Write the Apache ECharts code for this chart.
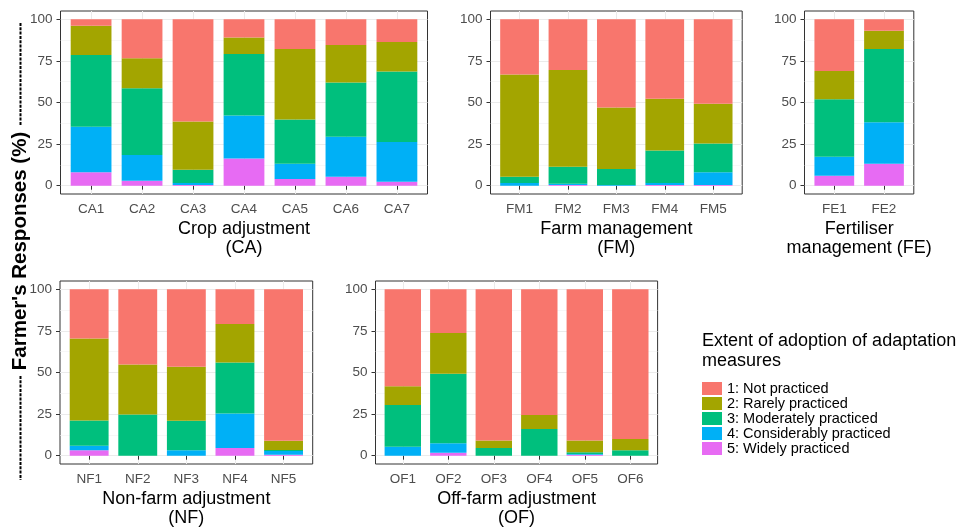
<!DOCTYPE html>
<html>
<head>
<meta charset="utf-8">
<script src="https://cdn.jsdelivr.net/npm/echarts@6/dist/echarts.min.js"></script>
<style>
  html, body { margin: 0; padding: 0; background: #fff; }
  #chart { width: 964px; height: 527px; }
</style>
</head>
<body>
<div id="chart"></div>
<script>
// Adoption levels, top of the stack first
const levelNames = ['1: Not practiced', '2: Rarely practiced', '3: Moderately practiced',
                    '4: Considerably practiced', '5: Widely practiced'];
const levelColors = ['#F8766D', '#A3A500', '#00BF7D', '#00B0F6', '#E76BF3'];
const yTicks = [0, 25, 50, 75, 100];
const yMinorTicks = [12.5, 37.5, 62.5, 87.5];

// Crop adjustment (CA)
const caLabels = ['CA1', 'CA2', 'CA3', 'CA4', 'CA5', 'CA6', 'CA7'];
const caNot          = [3.8, 23.4, 61.4, 11.0, 17.8, 15.4, 13.6];
const caRarely       = [17.6, 18.0, 29.0, 9.8, 42.4, 22.6, 17.8];
const caModerately   = [43.2, 40.2, 8.0, 37.0, 26.6, 32.6, 42.4];
const caConsiderably = [27.4, 15.4, 1.2, 25.8, 9.2, 24.0, 23.8];
const caWidely       = [8.0, 3.0, 0.4, 16.4, 4.0, 5.4, 2.4];

// Farm management (FM)
const fmLabels = ['FM1', 'FM2', 'FM3', 'FM4', 'FM5'];
const fmNot          = [33.2, 30.4, 53.0, 47.8, 50.8];
const fmRarely       = [61.4, 58.2, 37.0, 31.0, 23.8];
const fmModerately   = [3.8, 10.2, 9.6, 19.6, 17.4];
const fmConsiderably = [1.6, 0.8, 0.4, 1.2, 7.6];
const fmWidely       = [0.0, 0.4, 0.0, 0.4, 0.4];

// Fertiliser management (FE)
const feLabels = ['FE1', 'FE2'];
const feNot          = [31.0, 6.8];
const feRarely       = [17.0, 11.0];
const feModerately   = [34.6, 44.0];
const feConsiderably = [11.4, 25.0];
const feWidely       = [6.0, 13.2];

// Non-farm adjustment (NF)
const nfLabels = ['NF1', 'NF2', 'NF3', 'NF4', 'NF5'];
const nfNot          = [29.6, 45.2, 46.6, 20.8, 91.0];
const nfRarely       = [49.2, 30.0, 32.4, 23.2, 5.6];
const nfModerately   = [15.2, 24.8, 17.8, 30.6, 0.6];
const nfConsiderably = [2.8, 0.0, 3.2, 20.8, 2.2];
const nfWidely       = [3.2, 0.0, 0.0, 4.6, 0.6];

// Off-farm adjustment (OF)
const ofLabels = ['OF1', 'OF2', 'OF3', 'OF4', 'OF5', 'OF6'];
const ofNot          = [58.2, 26.2, 90.8, 75.6, 90.8, 90.0];
const ofRarely       = [11.4, 24.6, 4.6, 8.4, 7.2, 6.8];
const ofModerately   = [25.0, 41.8, 4.6, 16.0, 1.0, 3.2];
const ofConsiderably = [5.4, 5.6, 0.0, 0.0, 0.4, 0.0];
const ofWidely       = [0.0, 1.8, 0.0, 0.0, 0.6, 0.0];

const FONT = "'Liberation Sans', Arial, Helvetica, sans-serif";
const BAR_HALF = 0.4; // bars fill 80% of each category slot

// One facet per group: values listed in level order (Not ... Widely)
const panels = [
  { labels: caLabels, values: [caNot, caRarely, caModerately, caConsiderably, caWidely],
    title: 'Crop adjustment\n(CA)', box: { left: 60.5, top: 11, width: 367, height: 183 } },
  { labels: fmLabels, values: [fmNot, fmRarely, fmModerately, fmConsiderably, fmWidely],
    title: 'Farm management\n(FM)', box: { left: 490.5, top: 11, width: 251.7, height: 183 } },
  { labels: feLabels, values: [feNot, feRarely, feModerately, feConsiderably, feWidely],
    title: 'Fertiliser\nmanagement (FE)', box: { left: 804.5, top: 11, width: 109.3, height: 183 } },
  { labels: nfLabels, values: [nfNot, nfRarely, nfModerately, nfConsiderably, nfWidely],
    title: 'Non-farm adjustment\n(NF)', box: { left: 60, top: 281, width: 252.7, height: 183 } },
  { labels: ofLabels, values: [ofNot, ofRarely, ofModerately, ofConsiderably, ofWidely],
    title: 'Off-farm adjustment\n(OF)', box: { left: 375.5, top: 281, width: 282.1, height: 183 } }
];

// stacked rectangle drawn through the panel's own axes
function renderSegment(params, api) {
  const x = api.value(0), lo = api.value(1), hi = api.value(2);
  if (hi <= lo) return null;
  const a = api.coord([x - BAR_HALF, hi]);
  const b = api.coord([x + BAR_HALF, lo]);
  return {
    type: 'rect',
    shape: { x: a[0], y: a[1], width: b[0] - a[0], height: b[1] - a[1] },
    style: { fill: api.visual('color') }
  };
}

const grids = [], xAxes = [], yAxes = [], series = [];

panels.forEach((p, i) => {
  const n = p.labels.length;
  const positions = p.labels.map((_, k) => k + 1);
  grids.push(Object.assign({
    show: true, backgroundColor: '#ffffff', borderColor: '#333333', borderWidth: 1,
    containLabel: false, outerBoundsMode: 'none'
  }, p.box));

  xAxes.push({
    type: 'value', gridIndex: i, min: 0.4, max: n + 0.6,
    axisLine: { show: false },
    axisTick: { show: true, customValues: positions, length: 4, lineStyle: { color: '#333333', width: 1 } },
    axisLabel: {
      customValues: positions, margin: 8, color: '#4D4D4D', fontSize: 13.5, fontFamily: FONT,
      formatter: v => p.labels[Math.round(v) - 1] || ''
    },
    splitLine: { show: true, lineStyle: { color: '#EBEBEB', width: 1 } },
    name: p.title, nameLocation: 'middle', nameGap: 26,
    nameTextStyle: { color: '#000000', fontSize: 18, lineHeight: 19, fontFamily: FONT }
  });

  const yIndex = yAxes.length;
  yAxes.push({
    type: 'value', gridIndex: i, min: -5, max: 105, position: 'left',
    axisLine: { show: false },
    axisTick: { show: true, customValues: yTicks, length: 4, lineStyle: { color: '#333333', width: 1 } },
    axisLabel: { customValues: yTicks, margin: 8, color: '#4D4D4D', fontSize: 13.5, fontFamily: FONT },
    splitLine: { show: true, lineStyle: { color: '#EBEBEB', width: 1 } }
  });
  // minor horizontal grid lines
  yAxes.push({
    type: 'value', gridIndex: i, min: -5, max: 105, position: 'right',
    axisLine: { show: false },
    axisTick: { show: false, customValues: yMinorTicks },
    axisLabel: { show: false },
    splitLine: { show: true, lineStyle: { color: '#F2F2F2', width: 0.6 } }
  });

  // running totals: Widely at the bottom, Not practiced on top
  const base = positions.map(() => 0);
  for (let lv = levelNames.length - 1; lv >= 0; lv--) {
    const rows = p.values[lv].map((v, k) => {
      const row = [positions[k], base[k], base[k] + v];
      base[k] += v;
      return row;
    });
    series.push({
      type: 'custom', name: levelNames[lv],
      xAxisIndex: i, yAxisIndex: yIndex,
      itemStyle: { color: levelColors[lv] },
      encode: { x: 0, y: [1, 2] },
      renderItem: renderSegment,
      emphasis: { disabled: true },
      data: rows
    });
  }
});

const chart = echarts.init(document.getElementById('chart'), null, { renderer: 'canvas' });
chart.setOption({
  animation: false,
  backgroundColor: '#ffffff',
  textStyle: { fontFamily: FONT },
  grid: grids,
  xAxis: xAxes,
  yAxis: yAxes,
  series: series,
  title: {
    text: 'Extent of adoption of adaptation\nmeasures',
    left: 702, top: 331, padding: 0,
    textStyle: { fontSize: 18, fontWeight: 'normal', color: '#000000', lineHeight: 20, fontFamily: FONT }
  },
  legend: {
    data: levelNames, orient: 'vertical', left: 702, top: 381, padding: 0,
    icon: 'rect', itemWidth: 20, itemHeight: 13, itemGap: 0,
    selectedMode: false,
    textStyle: { fontSize: 14.5, color: '#000000', lineHeight: 13, fontFamily: FONT }
  },
  graphic: [
    {
      type: 'text', x: 20, y: 251, rotation: Math.PI / 2,
      style: {
        text: "Farmer's Responses (%)", fill: '#000000',
        font: "bold 20.5px 'Liberation Sans', Arial, sans-serif",
        align: 'center', verticalAlign: 'middle'
      }
    },
    {
      type: 'line', shape: { x1: 20.5, y1: 23, x2: 20.5, y2: 126 },
      style: { stroke: '#000000', lineWidth: 2, lineDash: [3, 1.3] }
    },
    {
      type: 'line', shape: { x1: 20.5, y1: 376, x2: 20.5, y2: 480 },
      style: { stroke: '#000000', lineWidth: 2, lineDash: [3, 1.3] }
    }
  ]
});
</script>
</body>
</html>
